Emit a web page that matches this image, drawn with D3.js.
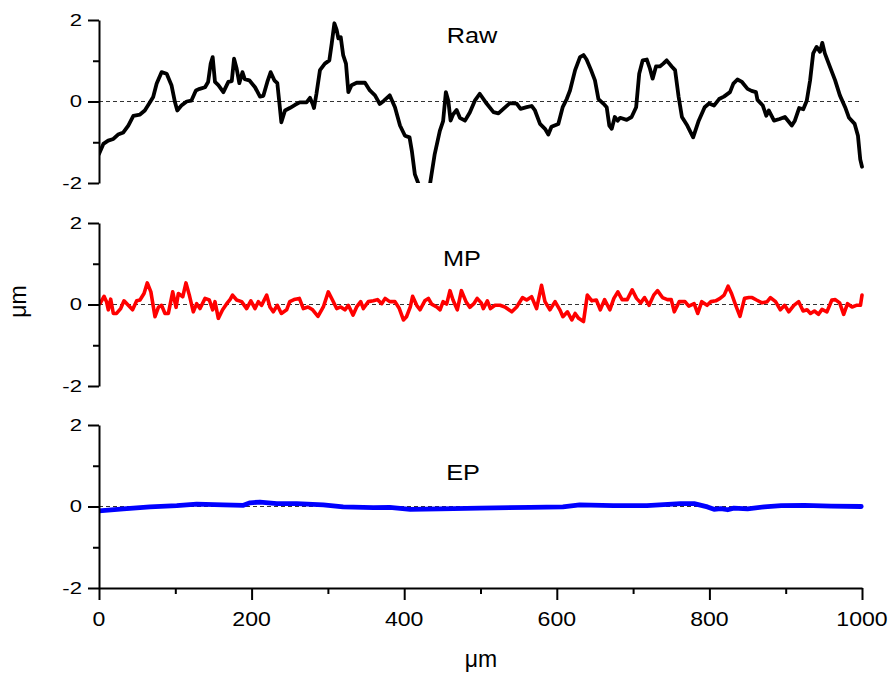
<!DOCTYPE html>
<html><head><meta charset="utf-8">
<script src="https://cdn.jsdelivr.net/npm/d3@7"></script>
<style>body{margin:0;background:#fff}svg{display:block}</style>
</head><body>
<svg id="c" width="890" height="675"></svg>
<script>
// ---- data ----
const panelNames = ["Raw", "MP", "EP"];
const panelColors = ["#000000", "#ff0000", "#0000ff"];
const yTickMajor = [-2, 0, 2];
const yTickMinor = [-1, 1];
const xTickMajor = [0, 200, 400, 600, 800, 1000];
const xTickMinor = [100, 300, 500, 700, 900];
const xAxisTitle = "μm";
const yAxisTitle = "μm";

const rawX = [0,5.7,12,18.8,25,31.9,38.4,45,53.7,60,66.8,71,75.6,82,88.7,95,99.6,102.6,108,114.9,121,127,132,139,143,146.4,149,152,156.4,163,169.5,174,177,180.4,183.9,188,191,197,204.5,211,215.4,220.6,225,229.8,233.7,237,239,243.8,250,257,263,272,276.5,280,281.8,285,289.6,296,301.9,305,308.5,311.5,313.7,316.8,320,323.7,326.8,331,337.7,348.6,355,361.7,368,373.5,381,387.9,394.5,401,407,410,414,418.9,426,433.8,440,446.7,451,454.6,457.8,460.8,464,468.7,473,479.7,486,492.6,499,508,517,523.5,530,538.5,547.4,552.5,560.5,567,571.4,578,584.5,588.9,593,602,607.7,613,617.3,624,630.4,635,639,644.9,650,654.6,661,665.4,668.8,672,676,679.7,683,691.6,698,704,708,712.6,718,722,725.6,730,735,739.6,744,750.6,755,759.7,764,771,778.7,786,793.8,799.5,806,812.7,819,827,831.4,836.7,842.7,850,855.3,861,863,870,874.6,877.8,884.7,892,899,908,912,917.6,923,927.6,932,936,940.5,945,948,951.3,958,964.8,971,977.9,983,990.4,994.7,997.7,1000];
const rawY = [-1.29,-1.04,-0.96,-0.92,-0.81,-0.76,-0.59,-0.35,-0.32,-0.22,-0.02,0.11,0.44,0.72,0.68,0.40,-0.02,-0.22,-0.10,0.0,0.02,0.27,0.31,0.35,0.48,0.93,1.09,0.48,0.40,0.23,0.48,0.50,1.05,0.81,0.45,0.72,0.55,0.52,0.35,0.12,0.14,0.48,0.72,0.52,0.45,-0.14,-0.51,-0.22,-0.16,-0.08,-0.02,-0.02,0.09,-0.06,-0.16,0.19,0.77,0.93,1.01,1.42,1.92,1.76,1.55,1.58,1.14,0.93,0.23,0.40,0.46,0.46,0.27,0.15,-0.06,0.02,0.15,-0.14,-0.59,-0.84,-0.88,-1.21,-1.79,-2.03,-2.9,-2.03,-1.29,-0.72,-0.48,0.23,0.02,-0.47,-0.32,-0.21,-0.40,-0.47,-0.27,0.02,0.19,-0.05,-0.26,-0.29,-0.18,-0.04,-0.05,-0.18,-0.14,-0.11,-0.22,-0.55,-0.67,-0.81,-0.62,-0.55,-0.14,0.06,0.27,0.77,1.09,1.14,1.03,0.77,0.52,0.06,-0.05,-0.14,-0.59,-0.67,-0.38,-0.47,-0.40,-0.45,-0.38,-0.14,0.68,1.01,1.03,0.81,0.56,0.86,0.86,0.93,1.01,0.86,0.77,0.11,-0.38,-0.59,-0.88,-0.47,-0.14,-0.05,-0.10,0.06,0.12,0.23,0.44,0.54,0.48,0.31,0.26,0.23,0.04,-0.10,-0.35,-0.22,-0.47,-0.43,-0.38,-0.59,-0.47,-0.16,-0.19,0.02,0.52,1.18,1.34,1.22,1.44,1.18,0.85,0.52,0.15,-0.14,-0.40,-0.55,-0.84,-1.42,-1.6];

const mpX = [1.3,6.6,10,12.2,15.3,18.8,23,28.4,32.8,38.4,44,49.4,53.7,59,63.3,68,73.4,77.8,82,86.5,90.9,96.6,101,104,109.8,114,118.4,123.6,128,132.4,139,144.6,149,152,156.4,162,167.4,171.7,175,180.4,186.9,193.5,199,204.5,208.8,213,219.8,224,228.4,233.7,239,245.9,250,255.6,262.6,267.8,274,280,287,294,300.5,306,311.5,316.8,322.3,326.8,333,337.7,343,346.5,353,359.6,365,370.5,375,381,387.9,393.6,399,403,408,411,416.4,420.7,427,431.7,436,442.6,447,451,455.6,460,464,469.6,475,481,486,491.3,495.6,501,503.7,509,513,519,525.6,532,541,547.4,555,560.5,567,573.5,580,584.5,591,597.7,604,608,614,619.7,624,628.6,635,640,646,651.8,657,662.6,669.5,674.8,680,685.6,692.3,698.8,704.5,710,715,721,727,732,738.5,745,750,754,760.5,768,773,780,784.7,790,797,802,808.3,814,819.3,824.5,829,834.5,840.1,846,851.7,856,861.8,869,875.7,880,886.7,893,898.6,904,910.7,917,922.8,928,932.5,937.6,943,947.6,954,960.5,965,970.7,976,981,987,992.6,998,1000];
const mpY = [0.02,0.20,0.06,-0.13,0.13,-0.22,-0.22,-0.10,0.09,-0.02,-0.13,0.09,0.11,0.27,0.53,0.31,-0.30,-0.07,-0.02,-0.22,-0.22,0.31,-0.07,0.27,0.19,0.53,0.23,-0.18,0.02,-0.10,0.15,0.11,-0.13,0.07,-0.34,-0.13,0.02,0.12,0.23,0.11,0.07,-0.10,0.09,-0.10,0.07,-0.02,0.23,-0.06,-0.18,-0.02,-0.22,-0.13,0.07,0.12,0.15,-0.10,-0.06,-0.13,-0.29,-0.06,0.31,0.11,-0.10,-0.06,-0.13,-0.02,-0.26,-0.06,0.07,-0.10,0.07,0.09,0.12,0.02,0.15,0.07,0.07,-0.10,-0.38,-0.30,-0.06,0.20,-0.02,-0.13,0.09,0.15,0.01,-0.06,-0.13,0.07,0.01,0.34,0.11,-0.13,0.34,0.07,-0.07,0.02,0.15,0.04,-0.10,0.09,-0.10,-0.02,-0.02,-0.06,-0.18,-0.06,0.17,0.11,0.19,-0.10,0.47,0.07,-0.13,0.07,-0.13,-0.30,-0.18,-0.38,-0.22,-0.34,-0.42,0.23,0.09,0.11,-0.13,0.12,-0.13,0.15,0.31,0.12,0.12,0.36,0.15,0.04,0.17,-0.02,0.23,0.34,0.17,0.12,0.12,-0.18,0.07,0.07,-0.04,0.02,-0.22,0.07,-0.02,0.07,0.09,0.15,0.23,0.45,0.27,-0.02,-0.29,0.15,0.17,0.17,0.11,0.04,0.07,0.17,0.07,-0.13,-0.02,-0.18,-0.02,0.07,-0.16,-0.13,-0.22,-0.16,-0.24,-0.12,-0.18,0.11,0.12,0.04,-0.24,0.02,-0.06,-0.02,-0.02,0.23];

const epX = [0,31.9,66.8,102,128,163,189.3,198,211,233,259,294,320,359.6,381,408,447,499,565,608,630,674,718,762,780,797.5,806,815,824,832,850,872,894,924.6,959.5,999];
const epY = [-0.11,-0.06,-0.01,0.02,0.06,0.04,0.03,0.09,0.11,0.07,0.07,0.04,-0.01,-0.03,-0.02,-0.07,-0.06,-0.04,-0.02,-0.01,0.04,0.02,0.02,0.07,0.07,-0.01,-0.07,-0.05,-0.08,-0.04,-0.06,-0.01,0.02,0.03,0.01,0.00];

const seriesX = [rawX, mpX, epX];
const seriesY = [rawY, mpY, epY];

// ---- layout ----
const svg = d3.select("#c");
const X0 = 99, X1 = 862;
const panels = [{top: 20, bottom: 183}, {top: 223, bottom: 386}, {top: 425, bottom: 588}];
const labelPos = [{x: 472, y: 43}, {x: 462, y: 266}, {x: 463, y: 480}];
const lineWidths = [3.8, 3.6, 4.8];
const font = "'Liberation Sans', Arial, sans-serif";

const x = d3.scaleLinear().domain([0, 1000]).range([X0, X1]);

panels.forEach((p, i) => {
  const y = d3.scaleLinear().domain([-2, 2]).range([p.bottom, p.top]);
  const g = svg.append("g");

  svg.append("clipPath").attr("id", "clip" + i)
    .append("rect").attr("x", X0).attr("y", p.top - 2)
    .attr("width", X1 - X0 + 2).attr("height", p.bottom - p.top + 2);

  // zero dashed line
  g.append("line")
    .attr("x1", x(0)).attr("x2", x(1000)).attr("y1", y(0)).attr("y2", y(0))
    .attr("stroke", "#333").attr("stroke-width", 1).attr("stroke-dasharray", "4,3");

  // data line
  const xs = seriesX[i], ys = seriesY[i];
  const pts = xs.map((v, k) => [v, ys[k]]);
  g.append("path")
    .attr("clip-path", `url(#clip${i})`)
    .attr("d", d3.line().x(d => x(d[0])).y(d => y(d[1]))(pts))
    .attr("fill", "none").attr("stroke", panelColors[i])
    .attr("stroke-width", lineWidths[i])
    .attr("stroke-linejoin", "round").attr("stroke-linecap", "round");

  // y axis major
  const ya = g.append("g").attr("transform", `translate(${X0},0)`)
    .call(d3.axisLeft(y).tickValues(yTickMajor).tickSize(11).tickSizeOuter(0).tickFormat(""));
  ya.select(".domain").attr("stroke", "#000").attr("stroke-width", 2);
  ya.selectAll(".tick line").attr("stroke", "#000").attr("stroke-width", 2);
  // y axis minor
  const ym = g.append("g").attr("transform", `translate(${X0},0)`)
    .call(d3.axisLeft(y).tickValues(yTickMinor).tickSize(6).tickFormat(""));
  ym.select(".domain").remove();
  ym.selectAll(".tick line").attr("stroke", "#000").attr("stroke-width", 2);

  // y tick labels
  yTickMajor.forEach(v => {
    g.append("text")
      .attr("transform", `translate(${X0 - 17},${y(v)}) scale(1.3,1)`)
      .attr("text-anchor", "end").attr("dy", "0.35em")
      .attr("font-family", font).attr("font-size", 17).attr("fill", "#000")
      .text(String(v));
  });

  // panel label
  g.append("text")
    .attr("transform", `translate(${labelPos[i].x},${labelPos[i].y}) scale(1.15,1)`)
    .attr("text-anchor", "middle")
    .attr("font-family", font).attr("font-size", 22).attr("fill", "#000")
    .text(panelNames[i]);

  // bottom x axis
  if (i === panels.length - 1) {
    const xa = svg.append("g").attr("transform", `translate(0,${p.bottom})`)
      .call(d3.axisBottom(x).tickValues(xTickMajor).tickSize(12).tickSizeOuter(0).tickFormat(""));
    xa.select(".domain").attr("stroke", "#000").attr("stroke-width", 2);
    xa.selectAll(".tick line").attr("stroke", "#000").attr("stroke-width", 2);
    const xm = svg.append("g").attr("transform", `translate(0,${p.bottom})`)
      .call(d3.axisBottom(x).tickValues(xTickMinor).tickSize(6).tickFormat(""));
    xm.select(".domain").remove();
    xm.selectAll(".tick line").attr("stroke", "#000").attr("stroke-width", 2);
    xTickMajor.forEach(v => {
      svg.append("text")
        .attr("transform", `translate(${x(v)},${p.bottom + 38}) scale(1.1,1)`)
        .attr("text-anchor", "middle")
        .attr("font-family", font).attr("font-size", 21).attr("fill", "#000")
        .text(String(v));
    });
  }
});

// axis titles
svg.append("text")
  .attr("transform", "translate(481,667)")
  .attr("text-anchor", "middle")
  .attr("font-family", font).attr("font-size", 23).attr("fill", "#000")
  .text(xAxisTitle);
svg.append("text")
  .attr("transform", "translate(26,301.5) rotate(-90)")
  .attr("text-anchor", "middle")
  .attr("font-family", font).attr("font-size", 23).attr("fill", "#000")
  .text(yAxisTitle);
</script>
</body></html>
